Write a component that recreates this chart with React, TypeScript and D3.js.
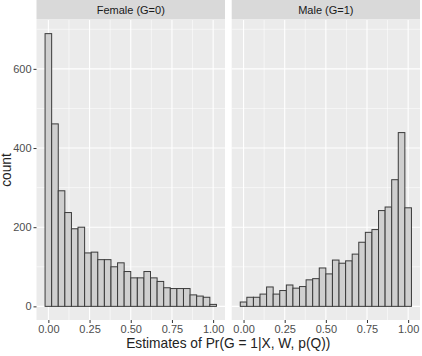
import React, { useEffect, useRef } from "react";
import * as d3 from "d3";

// histogram bins (width 0.04, centred on these values)
const binCenters = [
  0.0, 0.04, 0.08, 0.12, 0.16, 0.2, 0.24, 0.28, 0.32, 0.36, 0.4, 0.44, 0.48,
  0.52, 0.56, 0.6, 0.64, 0.68, 0.72, 0.76, 0.8, 0.84, 0.88, 0.92, 0.96, 1.0,
];
const binWidth = 0.04;

const femaleCounts = [
  689, 461, 292, 237, 196, 200, 135, 137, 118, 118, 100, 110, 88, 72, 72, 88,
  72, 63, 47, 45, 45, 45, 29, 26, 23, 5,
];
const maleCounts = [
  11, 23, 23, 31, 49, 31, 40, 54, 46, 50, 67, 70, 97, 82, 117, 109, 115, 132,
  162, 187, 194, 242, 251, 320, 439, 249,
];

const panels = [
  { label: "Female (G=0)", counts: femaleCounts },
  { label: "Male (G=1)", counts: maleCounts },
];

const xTicks = [0, 0.25, 0.5, 0.75, 1];
const xMinor = [0.125, 0.375, 0.625, 0.875];
const yTicks = [0, 200, 400, 600];
const yMinor = [100, 300, 500, 700];

const xTitle = "Estimates of Pr(G = 1|X, W, p(Q))";
const yTitle = "count";

const App = () => {
  const ref = useRef<SVGSVGElement>(null);

  useEffect(() => {
    const svg = d3.select(ref.current);
    svg.selectAll("*").remove();

    const width = 422;
    const height = 356;
    const font = "'Liberation Sans', Arial, sans-serif";
    const stripTop = 0;
    const top = 20;
    const bottom = 320;
    const panelX = [
      [36.5, 225],
      [231.7, 420],
    ];

    svg.attr("width", width).attr("height", height).attr("viewBox", [0, 0, width, height]);
    svg.append("rect").attr("width", width).attr("height", height).attr("fill", "white");

    // data range of the bins, padded by 5% like ggplot
    const lo = binCenters[0] - binWidth / 2;
    const hi = binCenters[binCenters.length - 1] + binWidth / 2;
    const pad = (hi - lo) * 0.05;
    const yMax = d3.max([...femaleCounts, ...maleCounts]) as number;

    const y = d3
      .scaleLinear()
      .domain([-yMax * 0.05, yMax * 1.05])
      .range([bottom, top]);

    panels.forEach((p, i) => {
      const [x0, x1] = panelX[i];
      const x = d3.scaleLinear().domain([lo - pad, hi + pad]).range([x0, x1]);
      const g = svg.append("g");

      g.append("rect")
        .attr("x", x0)
        .attr("y", top)
        .attr("width", x1 - x0)
        .attr("height", bottom - top)
        .attr("fill", "#ebebeb");

      // minor then major grid
      g.selectAll(".xminor")
        .data(xMinor)
        .join("line")
        .attr("x1", (d) => x(d))
        .attr("x2", (d) => x(d))
        .attr("y1", top)
        .attr("y2", bottom)
        .attr("stroke", "white")
        .attr("stroke-width", 0.55);
      g.selectAll(".yminor")
        .data(yMinor)
        .join("line")
        .attr("x1", x0)
        .attr("x2", x1)
        .attr("y1", (d) => y(d))
        .attr("y2", (d) => y(d))
        .attr("stroke", "white")
        .attr("stroke-width", 0.55);
      g.selectAll(".xmajor")
        .data(xTicks)
        .join("line")
        .attr("x1", (d) => x(d))
        .attr("x2", (d) => x(d))
        .attr("y1", top)
        .attr("y2", bottom)
        .attr("stroke", "white")
        .attr("stroke-width", 1.1);
      g.selectAll(".ymajor")
        .data(yTicks)
        .join("line")
        .attr("x1", x0)
        .attr("x2", x1)
        .attr("y1", (d) => y(d))
        .attr("y2", (d) => y(d))
        .attr("stroke", "white")
        .attr("stroke-width", 1.1);

      // bars
      g.selectAll(".bar")
        .data(p.counts)
        .join("rect")
        .attr("x", (_, j) => x(binCenters[j] - binWidth / 2))
        .attr("y", (d) => y(d))
        .attr("width", (_, j) => x(binCenters[j] + binWidth / 2) - x(binCenters[j] - binWidth / 2))
        .attr("height", (d) => y(0) - y(d))
        .attr("fill", "#cfcfcf")
        .attr("stroke", "#3a3a3a")
        .attr("stroke-width", 1);

      // strip
      g.append("rect")
        .attr("x", x0)
        .attr("y", stripTop)
        .attr("width", x1 - x0)
        .attr("height", top - stripTop - 0.5)
        .attr("fill", "#d9d9d9");
      g.append("text")
        .attr("x", (x0 + x1) / 2)
        .attr("y", (stripTop + top) / 2 + 4)
        .attr("text-anchor", "middle")
        .attr("font-family", font)
        .attr("font-size", 11)
        .attr("fill", "#1a1a1a")
        .text(p.label);

      // bottom axis
      const xa = g
        .append("g")
        .attr("transform", `translate(0,${bottom})`)
        .call(
          d3
            .axisBottom(x)
            .tickValues(xTicks)
            .tickFormat(d3.format(".2f"))
            .tickSize(3)
            .tickPadding(2)
        );
      xa.select(".domain").remove();
      xa.selectAll("line").attr("stroke", "#333").attr("stroke-width", 1);
      xa.selectAll("text")
        .attr("fill", "#4d4d4d")
        .attr("font-family", font)
        .attr("font-size", 11);

      if (i === 0) {
        const ya = g
          .append("g")
          .attr("transform", `translate(${x0},0)`)
          .call(d3.axisLeft(y).tickValues(yTicks).tickSize(3).tickPadding(2));
        ya.select(".domain").remove();
        ya.selectAll("line").attr("stroke", "#333").attr("stroke-width", 1);
        ya.selectAll("text")
          .attr("fill", "#4d4d4d")
          .attr("font-family", font)
          .attr("font-size", 11);
      }
    });

    svg
      .append("text")
      .attr("x", (panelX[0][0] + panelX[1][1]) / 2)
      .attr("y", 348)
      .attr("text-anchor", "middle")
      .attr("font-family", font)
      .attr("font-size", 13.75)
      .attr("fill", "#222")
      .text(xTitle);

    svg
      .append("text")
      .attr("transform", `translate(11,${(top + bottom) / 2}) rotate(-90)`)
      .attr("text-anchor", "middle")
      .attr("font-family", font)
      .attr("font-size", 13.75)
      .attr("fill", "#222")
      .text(yTitle);
  }, []);

  return <svg ref={ref} style={{ position: "absolute", left: 0, top: 0 }}></svg>;
};

export default App;
